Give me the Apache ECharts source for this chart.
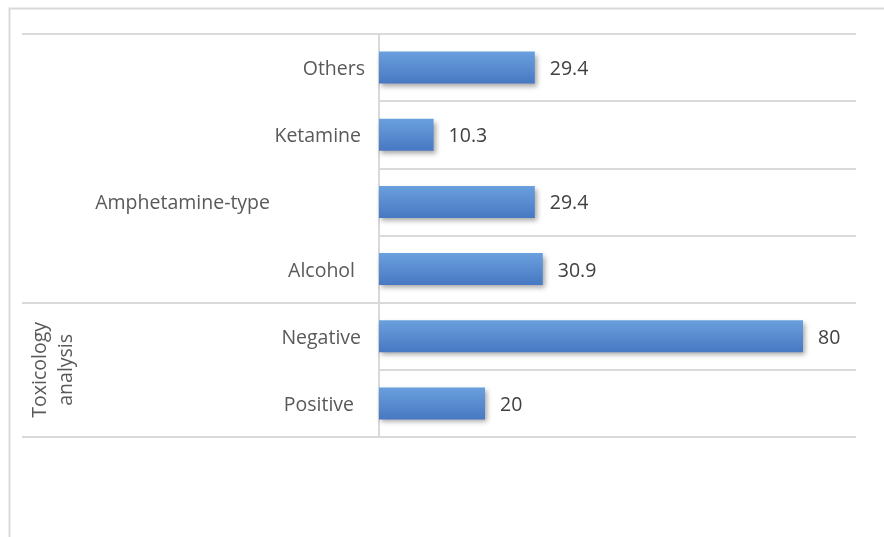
<!DOCTYPE html>
<html>
<head>
<meta charset="utf-8">
<script src="https://cdn.jsdelivr.net/npm/echarts@6/dist/echarts.min.js"></script>
<style>
html,body{margin:0;padding:0;background:#fff;}
#chart{width:884px;height:537px;}
</style>
</head>
<body>
<div id="chart"></div>
<script>
// Data
var categories = ['Others', 'Ketamine', 'Amphetamine-type', 'Alcohol', 'Negative', 'Positive'];
var values = [29.4, 10.3, 29.4, 30.9, 80, 20];
var groupLabel = 'Toxicology\nanalysis';
// extra right padding per category label (layout only)
var labelPad = [0, 4, 95, 10, 4, 11];

var FONT = 'Open Sans';
var FS = 19.5;
var GRID_COLOR = '#d9d9d9';

var rich = {};
categories.forEach(function (c, i) {
  rich['l' + i] = { padding: [4, labelPad[i], 0, 0], fontSize: FS, fontFamily: FONT, color: '#595959' };
});

var chart = echarts.init(document.getElementById('chart'), null, { renderer: 'canvas' });

var option = {
  animation: false,
  backgroundColor: '#ffffff',
  graphic: [{
    type: 'rect',
    z: -10,
    shape: { x: 9.5, y: 8.5, width: 1000, height: 1000 },
    style: { fill: 'none', stroke: GRID_COLOR, lineWidth: 2 }
  }],
  grid: [
    { left: 379, right: 28, top: 34, bottom: 100 },
    { left: 22, right: 28, top: 34, bottom: 100 }
  ],
  xAxis: [
    { type: 'value', gridIndex: 0, min: 0, max: 90, show: false },
    { type: 'value', gridIndex: 1, min: 0, max: 1, show: false }
  ],
  yAxis: [
    {
      type: 'category',
      gridIndex: 0,
      data: categories,
      inverse: true,
      axisLine: { show: true, lineStyle: { color: GRID_COLOR, width: 2 } },
      axisTick: { show: false },
      splitLine: { show: true, lineStyle: { color: GRID_COLOR, width: 2 } },
      axisLabel: {
        margin: 14,
        formatter: function (v, i) {
          var idx = categories.indexOf(v);
          return '{l' + idx + '|' + v + '}';
        },
        rich: rich
      }
    },
    {
      type: 'value',
      gridIndex: 1,
      min: 0,
      max: 6,
      interval: 1,
      inverse: true,
      axisLine: { show: false },
      axisTick: { show: false },
      splitLine: {
        show: true,
        lineStyle: {
          color: [GRID_COLOR, 'rgba(0,0,0,0)', 'rgba(0,0,0,0)', 'rgba(0,0,0,0)', GRID_COLOR, 'rgba(0,0,0,0)', GRID_COLOR],
          width: 2
        }
      },
      axisLabel: {
        show: true,
        inside: true,
        rotate: 90,
        margin: 5,
        fontSize: FS,
        lineHeight: 26,
        fontFamily: FONT,
        color: '#595959',
        align: 'center',
        formatter: function (v) { return v === 5 ? groupLabel : ''; }
      }
    }
  ],
  series: [{
    type: 'bar',
    xAxisIndex: 0,
    yAxisIndex: 0,
    data: values,
    barWidth: 32,
    itemStyle: {
      color: new echarts.graphic.LinearGradient(0, 0, 0, 1, [
        { offset: 0, color: '#6aa0de' },
        { offset: 1, color: '#4778c2' }
      ]),
      shadowColor: 'rgba(0,0,0,0.35)',
      shadowBlur: 5,
      shadowOffsetX: 2,
      shadowOffsetY: 3
    },
    label: {
      show: true,
      position: 'right',
      distance: 15,
      offset: [0, 2],
      fontSize: FS,
      fontFamily: FONT,
      color: '#404040'
    }
  }]
};

chart.setOption(option);
</script>
</body>
</html>
